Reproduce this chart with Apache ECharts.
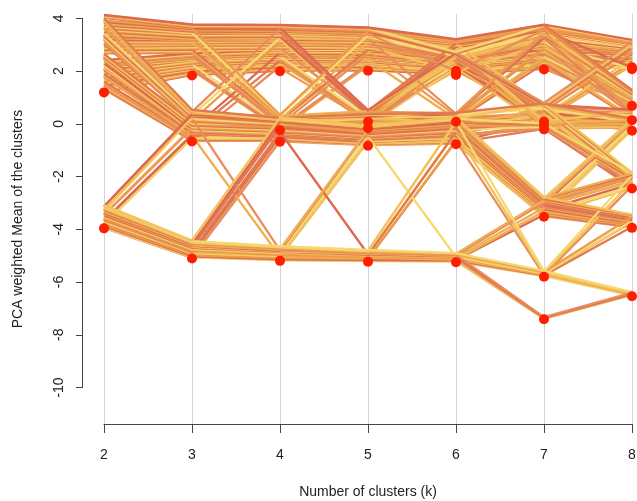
<!DOCTYPE html>
<html>
<head>
<meta charset="utf-8">
<script src="https://cdn.jsdelivr.net/npm/echarts@6/dist/echarts.min.js"></script>
<style>
html,body{margin:0;padding:0;background:#fff;}
#chart{width:637px;height:501px;}
</style>
</head>
<body>
<div id="chart"></div>
<script>
// k values (x axis categories)
const kValues = [2, 3, 4, 5, 6, 7, 8];
// PCA-weighted cluster means (red points) for every k
const meansK2 = [1.2, -3.95];
const meansK3 = [1.84, -0.66, -5.09];
const meansK4 = [2.0, -0.23, -0.67, -5.18];
const meansK5 = [2.02, 0.09, -0.16, -0.82, -5.21];
const meansK6 = [2.02, 1.86, 0.09, -0.76, -5.23, 1.95];
const meansK7 = [2.07, 0.1, -0.05, -0.2, -3.51, -5.78, -7.39];
const meansK8 = [2.15, 0.69, 0.15, -0.25, -2.44, -3.93, -6.52, 2.08];
// y tick labels and x tick labels
const yTicks = [-10, -8, -6, -4, -2, 0, 2, 4];
const xTicks = [2, 3, 4, 5, 6, 7, 8];
// cluster membership paths (cluster index at k = 2..8) and number of observations following each
const pathClusters = [
  [0,0,0,0,0,0,0],[0,0,0,0,0,0,1],[0,0,1,0,0,0,0],[0,0,0,1,0,0,1],
  [0,0,0,0,1,0,0],[0,0,0,0,1,0,1],[0,0,0,0,1,0,7],[0,1,0,0,1,0,0],
  [0,0,0,1,1,0,0],[0,0,0,1,1,0,1],[0,1,0,1,1,0,0],[0,0,0,2,1,0,1],
  [0,0,1,2,1,0,0],[0,1,1,2,1,0,2],[0,0,0,0,5,0,0],[0,0,0,0,2,0,1],
  [0,0,1,0,2,0,1],[0,0,1,1,2,0,2],[0,1,1,1,2,0,2],[0,1,1,2,2,0,2],
  [0,1,1,2,2,0,1],[0,0,1,0,1,0,0],
  [0,0,0,0,0,1,0],[0,0,0,0,0,1,2],[0,0,0,0,0,1,4],[0,0,1,1,0,1,3],
  [0,0,0,0,1,1,0],[0,0,0,0,1,1,2],[0,1,1,1,1,1,2],[1,1,1,2,2,1,4],
  [0,1,2,2,2,1,3],[0,1,2,2,3,1,4],
  [0,0,0,0,1,2,2],[0,0,1,2,1,2,2],[0,1,2,2,1,2,3],[1,1,2,2,3,2,3],
  [0,1,2,3,3,2,3],
  [0,0,0,0,1,3,3],[0,1,1,2,1,3,3],[0,1,2,2,1,3,4],[0,1,2,3,3,3,3],
  [0,1,2,3,3,3,4],
  [0,1,2,3,3,4,3],[0,1,2,3,3,4,4],[1,1,2,3,3,4,4],[1,1,2,3,3,4,5],
  [1,2,2,3,3,4,5],[1,2,3,3,3,4,3],[1,2,3,3,3,4,4],[1,2,3,3,3,4,5],
  [1,2,3,4,3,4,5],[0,1,3,4,4,4,5],[1,2,3,4,4,4,5],
  [1,2,3,4,3,5,4],[1,2,3,3,4,5,5],[1,2,3,4,4,5,5],[1,2,3,4,4,5,6],
  [0,1,2,4,4,6,6],[1,2,3,4,4,6,6]
];
const pathCounts = [
  6,6,3,5,
  18,11,3,4,
  3,2,2,2,
  1,2,3,2,
  1,1,3,2,
  1,4,
  5,4,4,3,
  3,1,3,2,
  5,5,
  2,2,1,2,
  1,
  2,1,1,2,
  5,
  4,5,3,3,
  8,2,2,2,
  3,2,3,
  3,1,3,4,
  1,3
];
// clustergram line width (vertical offset between stacked observation lines)
const lineStep = 0.02;

const meansByK = [meansK2, meansK3, meansK4, meansK5, meansK6, meansK7, meansK8];
const palette = ['#E27A50', '#EC9C4C', '#F3C25B', '#E88D5C', '#F6D872', '#DD6A4E', '#EFAE52'];

// observation order: each path's members spread evenly through the data order
const pathLevel = pathClusters.map(p => p.reduce((s, c, ki) => s + meansByK[ki][c], 0));
const obsList = [];
pathClusters.forEach((p, pi) => {
  for (let j = 0; j < pathCounts[pi]; j++) obsList.push({ p: pi, key: (j + 0.5) / pathCounts[pi] });
});
obsList.sort((a, b) => (a.key - b.key) || (pathLevel[a.p] - pathLevel[b.p]));
const counters = meansByK.map(m => m.map(() => 0));
const lineData = obsList.map((o, i) => {
  const coords = kValues.map((k, ki) => {
    const c = pathClusters[o.p][ki];
    counters[ki][c] += 1;
    return [k, meansByK[ki][c] + counters[ki][c] * lineStep];
  });
  return { coords: coords, lineStyle: { color: palette[(i * 5) % palette.length] } };
});
const centerData = [];
kValues.forEach((k, ki) => meansByK[ki].forEach(m => centerData.push([k, m])));

const FONT = 'Liberation Sans, Arial, Helvetica, sans-serif';
const chart = echarts.init(document.getElementById('chart'), null, { renderer: 'canvas' });
chart.setOption({
  animation: false,
  backgroundColor: '#ffffff',
  grid: [
    { left: 104, right: 5, top: 14, bottom: 77, containLabel: false, outerBoundsMode: 'none' },
    { left: 82, width: 10, top: 18.3, height: 369.2, containLabel: false, outerBoundsMode: 'none' }
  ],
  xAxis: [
    {
      type: 'value', gridIndex: 0, min: xTicks[0], max: xTicks[xTicks.length - 1], interval: 1,
      axisLine: { show: true, onZero: false, lineStyle: { color: '#444', width: 1 } },
      axisTick: { show: true, length: 9, lineStyle: { color: '#444' } },
      axisLabel: { show: true, fontSize: 14, color: '#222', margin: 24, fontFamily: FONT },
      splitLine: { show: true, lineStyle: { color: '#d4d4d4', width: 1 } },
      name: 'Number of clusters (k)', nameLocation: 'middle', nameGap: 61,
      nameTextStyle: { fontSize: 14, color: '#222', fontFamily: FONT }
    },
    { type: 'value', gridIndex: 1, show: false, min: 0, max: 1 }
  ],
  yAxis: [
    {
      type: 'value', gridIndex: 0, min: -11.36, max: 4.17,
      axisLine: { show: false }, axisTick: { show: false }, axisLabel: { show: false },
      splitLine: { show: false },
      name: 'PCA weighted Mean of the clusters', nameLocation: 'middle', nameGap: 79,
      nameTextStyle: { fontSize: 14, color: '#222', fontFamily: FONT }
    },
    {
      type: 'value', gridIndex: 1, min: yTicks[0], max: yTicks[yTicks.length - 1], interval: 2,
      axisLine: { show: true, lineStyle: { color: '#444', width: 1 } },
      axisTick: { show: true, length: 6, lineStyle: { color: '#444' } },
      axisLabel: { show: true, rotate: 90, fontSize: 14, color: '#222', margin: 16, fontFamily: FONT },
      splitLine: { show: false }
    }
  ],
  series: [
    {
      type: 'lines', coordinateSystem: 'cartesian2d', xAxisIndex: 0, yAxisIndex: 0,
      polyline: true, silent: true,
      lineStyle: { width: 2.3, opacity: 1, curveness: 0 },
      data: lineData, z: 2
    },
    {
      type: 'scatter', xAxisIndex: 0, yAxisIndex: 0, symbol: 'circle', symbolSize: 10,
      itemStyle: { color: '#FF1E00', opacity: 1 }, silent: true,
      data: centerData, z: 5
    }
  ]
});
</script>
</body>
</html>
